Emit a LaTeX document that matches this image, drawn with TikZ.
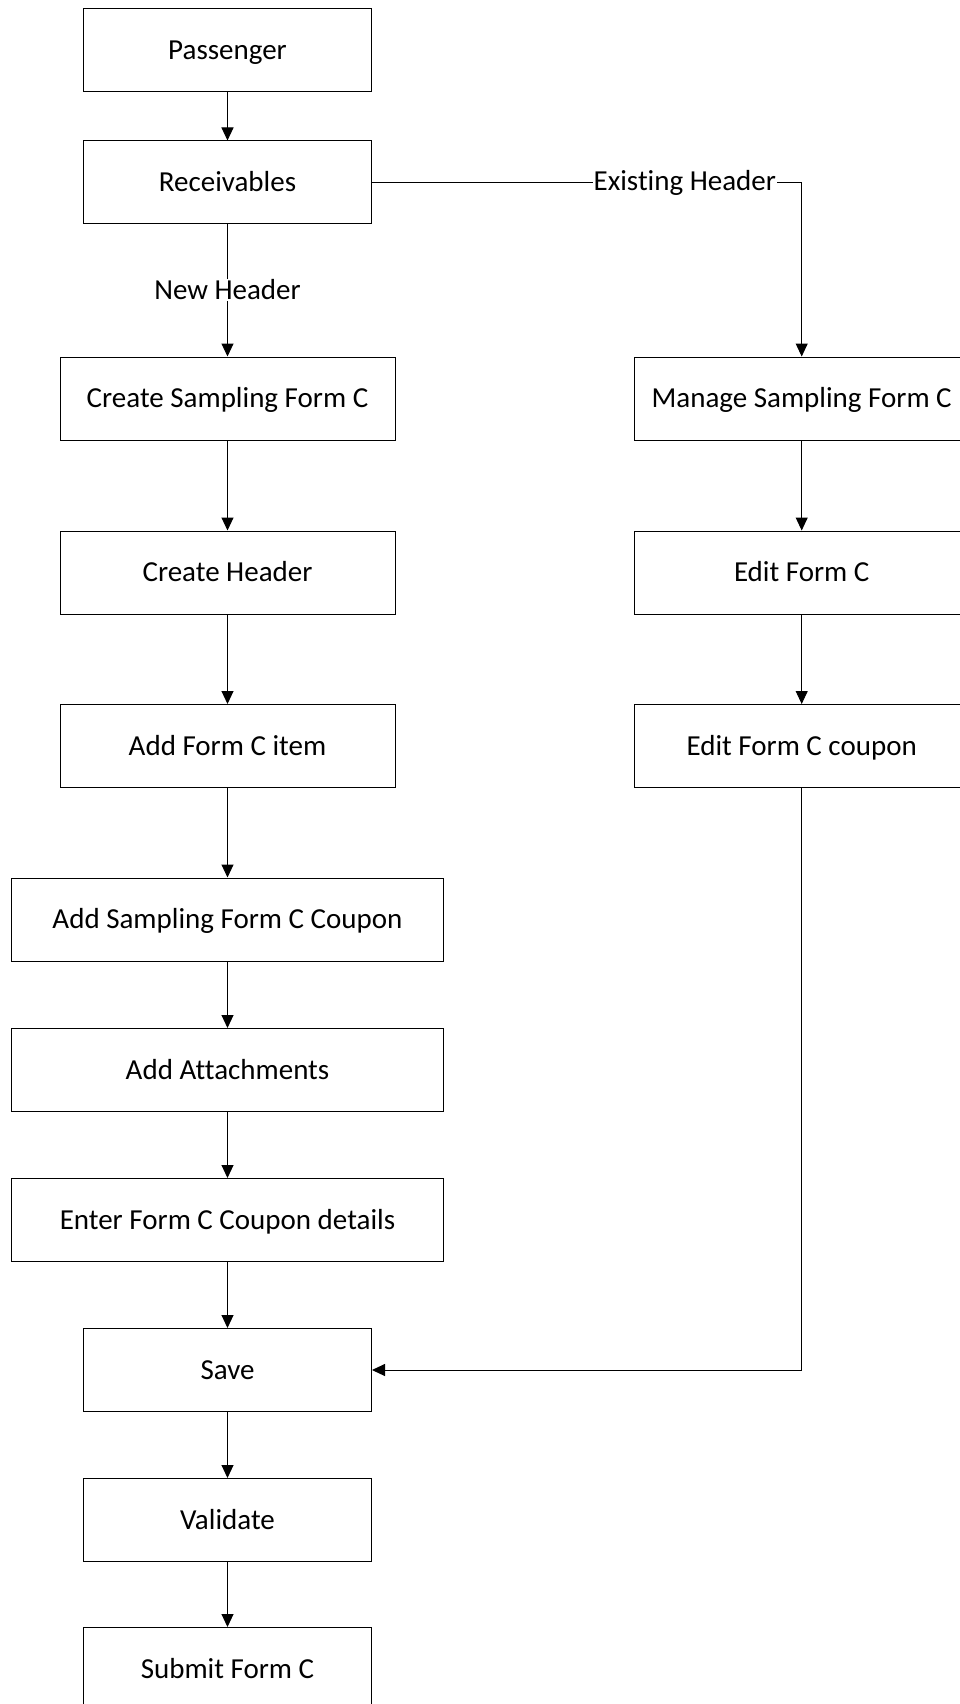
\documentclass[tikz,border=0pt]{standalone}
\usepackage{fontspec}
\setmainfont{Carlito}[Ligatures=NoCommon]
\usetikzlibrary{arrows.meta, positioning}

\begin{document}
\begin{tikzpicture}[
    x=1pt, y=-1pt,
    box/.style={rectangle, draw, line width=1pt, minimum width=288pt, minimum height=83pt, inner sep=0pt, align=center, text height=18.7pt, text depth=0pt, font=\fontsize{29}{34}\selectfont},
    mid/.style={box, minimum width=335pt},
    wide/.style={box, minimum width=432pt},
    flow/.style={draw, line width=1pt, -{Triangle[length=13pt, width=12pt]}},
    tag/.style={fill=white, inner sep=0.5pt, font=\fontsize{29}{34}\selectfont},
]
    \useasboundingbox (0,0) rectangle (959,1704);

    % Main column
    \node[box] at (227.5, 50) (pass) {Passenger};
    \node[box] at (227.5, 182.5) (recv) {Receivables};
    \node[mid] at (227.5, 398.5) (create) {Create Sampling Form C};
    \node[mid] at (227.5, 572.5) (header) {Create Header};
    \node[mid] at (227.5, 746) (item) {Add Form C item};
    \node[wide] at (227.5, 919.5) (coupon) {Add Sampling Form C Coupon};
    \node[wide] at (227.5, 1070) (attach) {Add Attachments};
    \node[wide] at (227.5, 1220) (details) {Enter Form C Coupon details};
    \node[box] at (227.5, 1370) (save) {Save};
    \node[box] at (227.5, 1520) (valid) {Validate};
    \node[box] at (227.5, 1669) (submit) {Submit Form C};

    % Existing header column
    \node[mid] at (801.7, 398.5) (manage) {Manage Sampling Form C};
    \node[mid] at (801.7, 572.5) (edit) {Edit Form C};
    \node[mid] at (801.7, 746) (editcoupon) {Edit Form C coupon};

    % Connectors
    \draw[flow] (pass) -- (recv);
    \draw[flow] (recv) -- (create);
    \draw[flow] (recv) -| (manage);
    \draw[flow] (create) -- (header);
    \draw[flow] (header) -- (item);
    \draw[flow] (item) -- (coupon);
    \draw[flow] (coupon) -- (attach);
    \draw[flow] (attach) -- (details);
    \draw[flow] (details) -- (save);
    \draw[flow] (save) -- (valid);
    \draw[flow] (valid) -- (submit);
    \draw[flow] (manage) -- (edit);
    \draw[flow] (edit) -- (editcoupon);
    \draw[flow] (editcoupon) |- (save);

    % Branch labels
    \node[tag] at (227.5, 290) (newlbl) {New Header};
    \path (recv) -| node[tag, pos=0.364] (oldlbl) {Existing Header} (manage);

\end{tikzpicture}
\end{document}
